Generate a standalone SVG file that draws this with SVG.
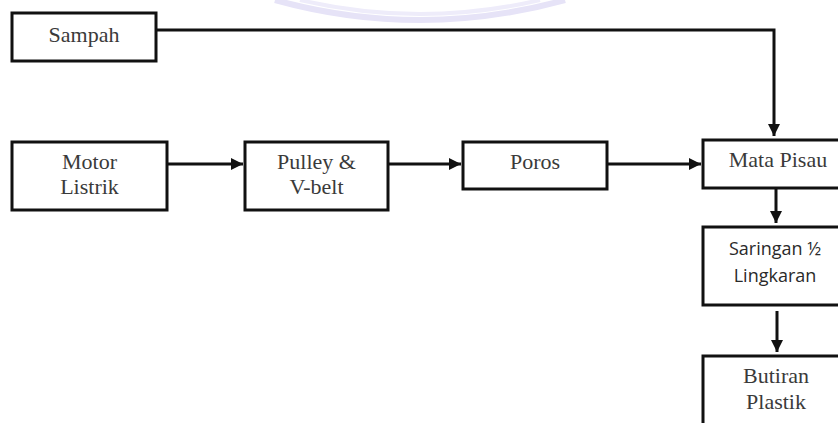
<svg xmlns="http://www.w3.org/2000/svg" width="838" height="423" viewBox="0 0 838 423">
<style>
.box{fill:#fff;stroke:#111;stroke-width:3}
.t{font-family:"Liberation Serif","Times New Roman",serif;font-size:22px;fill:#3a3a3a;text-anchor:middle}
.s{font-family:"Open Sans","Noto Sans",sans-serif;font-size:18px;fill:#2a2a2a;text-anchor:middle}
.c{fill:none;stroke:#111;stroke-width:3}
</style>
<defs>
<marker id="ah" viewBox="0 0 10 10" refX="10" refY="5" markerWidth="4" markerHeight="4" markerUnits="strokeWidth" orient="auto">
<path d="M0,0 L10,5 L0,10 Z" fill="#111"/>
</marker>
</defs>
<rect width="838" height="423" fill="#fff"/>
<path d="M275,0 Q420,40 565,0" fill="none" stroke="#e6e3f7" stroke-width="6"/>
<path d="M300,0 Q420,28 540,0" fill="none" stroke="#eeecfa" stroke-width="4"/>
<g id="connectors">
<path class="c" d="M156,30 H774 V136" marker-end="url(#ah)"/>
<path class="c" d="M167,164 H243" marker-end="url(#ah)"/>
<path class="c" d="M388,164 H461" marker-end="url(#ah)"/>
<path class="c" d="M607,164 H701" marker-end="url(#ah)"/>
<path class="c" d="M776,188 V223" marker-end="url(#ah)"/>
<path class="c" d="M777,311 V352" marker-end="url(#ah)"/>
</g>
<g id="sampah"><rect class="box" x="12" y="13" width="144" height="48"/><text class="t" x="84" y="42">Sampah</text></g>
<g id="motor"><rect class="box" x="12" y="142" width="155" height="68"/><text class="t" x="89.5" y="169">Motor</text><text class="t" x="89.5" y="194">Listrik</text></g>
<g id="pulley"><rect class="box" x="245" y="142" width="143" height="68"/><text class="t" x="316.5" y="169">Pulley &amp;</text><text class="t" x="316.5" y="194">V-belt</text></g>
<g id="poros"><rect class="box" x="463" y="142" width="144" height="47"/><text class="t" x="535" y="169">Poros</text></g>
<g id="mata-pisau"><rect class="box" x="703" y="140" width="150" height="48"/><text class="t" x="778" y="167">Mata Pisau</text></g>
<g id="saringan"><rect class="box" x="703" y="227" width="150" height="78"/><text class="s" x="775" y="255">Saringan ½</text><text class="s" x="775" y="282">Lingkaran</text></g>
<g id="butiran"><rect class="box" x="703" y="356" width="150" height="80"/><text class="t" x="776" y="383">Butiran</text><text class="t" x="776" y="409">Plastik</text></g>
</svg>
